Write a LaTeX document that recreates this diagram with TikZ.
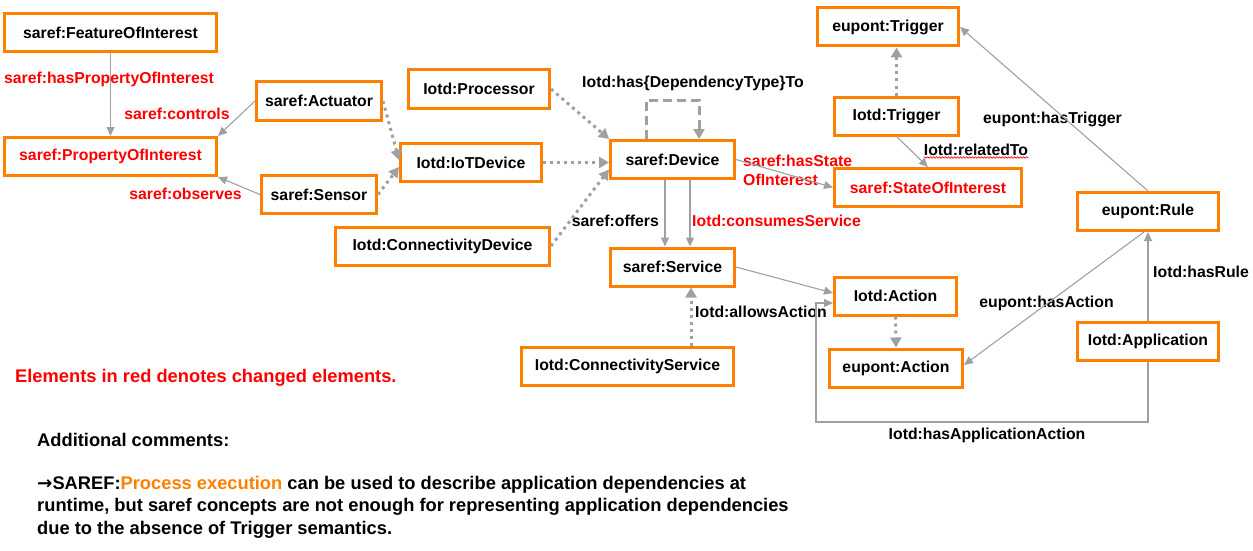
\documentclass[tikz,border=0pt]{standalone}
\usepackage{fontspec}
\setmainfont{Liberation Sans}
\newfontfamily\symfont{DejaVu Sans}
\usetikzlibrary{arrows.meta,decorations.pathmorphing}
\definecolor{boxorange}{RGB}{255,127,0}
\definecolor{linegray}{RGB}{160,160,160}
\definecolor{labelred}{RGB}{255,0,0}

\begin{document}
\begin{tikzpicture}[x=1pt,y=-1pt]
		\tikzstyle {classbox} = [draw=boxorange, line width=3pt, minimum height=38pt, inner sep=2pt, font=\fontsize{15.8}{19}\selectfont\bfseries]
		\tikzstyle {relation} = [color=linegray, line width=1.1pt, -{Triangle[length=9pt,width=8pt]}]
		\tikzstyle {subclass} = [color=linegray, line width=3pt, dash pattern=on 3pt off 4pt, -{Triangle[length=10pt,width=11pt]}]
		\tikzstyle {relname} = [font=\fontsize{15.8}{19}\selectfont\bfseries, inner sep=0pt]
		\tikzstyle {remark} = [font=\fontsize{18.3}{22.5}\selectfont\bfseries, inner sep=0pt, anchor=west, align=left]

		\useasboundingbox (0,0) rectangle (1253,551);

		\node[classbox, minimum width=212pt] (foi) at (110.5,32.5) {saref:FeatureOfInterest};
		\node[classbox, minimum width=212pt, text=labelred] (poi) at (110.5,156.5) {saref:PropertyOfInterest};
		\node[classbox, minimum width=125pt] (actuator) at (319,101) {saref:Actuator};
		\node[classbox, minimum width=115pt] (sensor) at (319,194.5) {saref:Sensor};
		\node[classbox, minimum width=141pt] (processor) at (479,89) {Iotd:Processor};
		\node[classbox, minimum width=141pt] (iotdevice) at (471,162.5) {Iotd:IoTDevice};
		\node[classbox, minimum width=214pt] (conndevice) at (442.5,246) {Iotd:ConnectivityDevice};
		\node[classbox, minimum width=124pt] (device) at (672.5,159.5) {saref:Device};
		\node[classbox, minimum width=124pt] (service) at (672.5,267) {saref:Service};
		\node[classbox, minimum width=212pt] (connservice) at (627.5,366) {Iotd:ConnectivityService};
		\node[classbox, minimum width=122pt] (iotdaction) at (895.5,296) {Iotd:Action};
		\node[classbox, minimum width=133pt] (euaction) at (896,368) {eupont:Action};
		\node[classbox, minimum width=141pt] (application) at (1148,341) {Iotd:Application};
		\node[classbox, minimum width=141pt] (rule) at (1148,211.5) {eupont:Rule};
		\node[classbox, minimum width=141pt] (eutrigger) at (888,27) {eupont:Trigger};
		\node[classbox, minimum width=124pt] (iotdtrigger) at (896.5,116) {Iotd:Trigger};
		\node[classbox, minimum width=187pt, text=labelred] (state) at (928,187.5) {saref:StateOfInterest};

		\node[relname, text=labelred] (haspoi) at (109,79) {saref:hasPropertyOfInterest};
		\node[relname, text=labelred] (controls) at (177,114) {saref:controls};
		\node[relname, text=labelred] (observes) at (185.5,194) {saref:observes};
		\node[relname] (hasdep) at (693,83) {Iotd:has\{DependencyType\}To};
		\node[relname, anchor=east] (offers) at (659,221) {saref:offers};
		\node[relname, anchor=west, text=labelred] (consumes) at (692,221) {Iotd:consumesService};
		\node[relname, anchor=west, align=left, text=labelred] (hasstate) at (743,170) {saref:hasState\\OfInterest};
		\node[relname] (related) at (976,150) {Iotd:relatedTo};
		\node[relname] (hastrigger) at (1052.5,119) {eupont:hasTrigger};
		\node[relname, anchor=west] (allows) at (695,312) {Iotd:allowsAction};
		\node[relname] (hasaction) at (1046.5,303) {eupont:hasAction};
		\node[relname, anchor=west] (hasrule) at (1153,272) {Iotd:hasRule};
		\node[relname] (hasappaction) at (987,435) {Iotd:hasApplicationAction};

		\draw[labelred, line width=0.6pt, decorate, decoration={snake, amplitude=0.8pt, segment length=3pt}] ([yshift=-1.5pt]related.south west) -- ([yshift=-1.5pt]related.south east);

		\draw[relation] (foi) -- (poi);
		\draw[relation] (actuator.west) -- (poi.north east);
		\draw[relation] (sensor.west) -- (poi.south east);
		\draw[subclass] (actuator.east) -- ([yshift=2.5pt]iotdevice.west);
		\draw[subclass] (sensor.east) -- ([yshift=-4.5pt]iotdevice.west);
		\draw[subclass] (processor.east) -- (device.north west);
		\draw[subclass] (iotdevice.east) -- (iotdevice.east -| device.west);
		\draw[subclass] (conndevice.east) -- ([yshift=-10pt]device.west);
		\draw[subclass, dash pattern=on 9pt off 5pt] ([xshift=-26.5pt]device.north) -- ++(0,-39) -| ([xshift=26.5pt]device.north);
		\draw[relation] ([xshift=-7.5pt]device.south) -- ([xshift=-7.5pt]service.north);
		\draw[relation] ([xshift=17.5pt]device.south) -- ([xshift=17.5pt]service.north);
		\draw[relation] (device.east) -- (state.west);
		\draw[subclass] (iotdtrigger.north) -- (iotdtrigger.north |- eutrigger.south);
		\draw[relation] (iotdtrigger.south) -- (state.north);
		\draw[relation] (rule.north) -- (eutrigger.east);
		\draw[relation] (service.east) -- ([yshift=3pt]iotdaction.west);
		\coordinate (allowsx) at ([xshift=18.5pt]service.south);
		\draw[subclass] (allowsx |- connservice.north) -- (allowsx);
		\draw[subclass] (iotdaction.south) -- (euaction.north);
		\draw[relation] ([xshift=-4pt]rule.south) -- ([yshift=3pt]euaction.east);
		\draw[relation] (application.north) -- (rule.south);
		\draw[relation] (application.south) |- (816,422) |- ([yshift=-7pt]iotdaction.west);

		\node[remark, text=labelred] (legend) at (15,378) {Elements in red denotes changed elements.};
		\node[remark] (addcomments) at (37,440) {Additional comments:};
		\node[remark] (comment) at (37,507) {{\symfont →}SAREF:\textcolor{boxorange}{Process execution} can be used to describe application dependencies at\\runtime, but saref concepts are not enough for representing application dependencies\\due to the absence of Trigger semantics.};
	\end{tikzpicture}
\end{document}
